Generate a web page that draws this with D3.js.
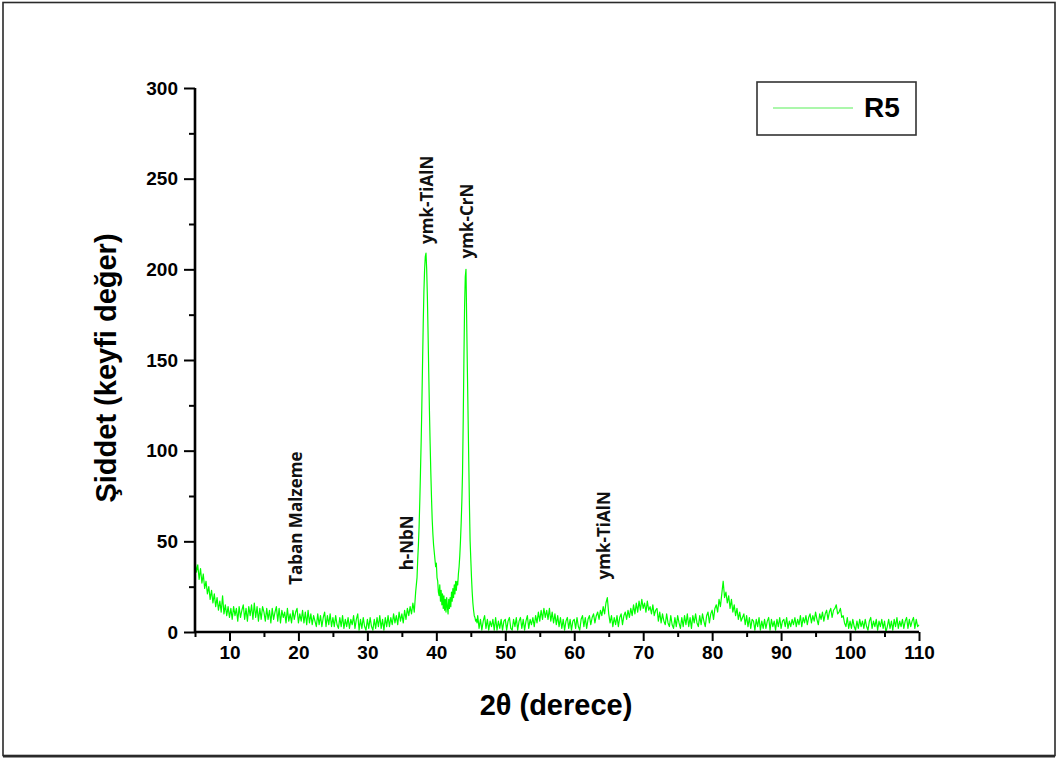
<!DOCTYPE html>
<html>
<head>
<meta charset="utf-8">
<script src="https://cdn.jsdelivr.net/npm/d3@7"></script>
<style>
  html, body { margin: 0; padding: 0; background: #fff; }
  svg { display: block; }
</style>
</head>
<body>
<svg id="chart" width="1060" height="760"></svg>
<script>
// XRD scan of coating R5: intensity (arbitrary units) against 2θ (degrees).
// Low-angle region, 5.0°–36.8° in 0.2° steps
const lowAngleStart = 5.0, lowAngleStep = 0.2;
const lowAngleCounts = [
  40,33,37,29,35,27,32,24,28,21,
  25,18,23,16,21,14,19,12,17,11,
  20,10,15,9,14,8,13,7,14,9,
  13,6,14,8,12,15,7,13,6,14,
  9,15,7,16,8,14,6,13,7,14,
  11,6,13,7,12,5,13,7,11,14,
  6,13,5,12,8,11,5,13,6,10,
  5,12,7,11,13,5,10,6,12,5,
  11,4,12,5,10,4,9,6,3,10,
  4,9,3,8,11,3,9,4,10,3,
  8,3,9,4,2,8,3,9,2,7,
  3,8,2,7,4,9,2,7,10,1,
  7,2,8,3,1,7,2,8,3,1,
  7,2,8,3,9,2,7,1,8,3,
  9,3,8,4,10,5,9,4,11,6,
  10,5,12,7,13,9,14,10,16,11
];
// Main reflections, 37.0°–45.9° in 0.1° steps
const peakStart = 37.0, peakStep = 0.1;
const peakCounts = [
  22,26,30,40,48,58,72,88,105,125,
  148,170,188,200,207,209,200,185,165,143,
  122,104,88,74,62,54,48,44,40,36,
  38,30,28,22,20,26,17,23,15,21,
  13,20,12,18,11,19,14,10,18,13,
  19,14,22,17,24,19,26,21,28,23,
  28,26,32,36,42,50,60,72,88,117,
  150,180,196,200,172,145,120,95,70,50,
  40,30,22,16,12,9,8,6,7,5
];
// High-angle region, 46.0°–110.0° in 0.2° steps
const highAngleStart = 46.0, highAngleStep = 0.2;
const highAngleCounts = [
  9,2,7,1,6,9,2,7,1,6,
  3,7,1,8,1,6,2,7,1,6,
  7,1,6,8,2,1,7,3,8,1,
  6,8,2,7,1,6,9,2,7,4,
  8,3,9,5,11,6,12,7,13,8,
  12,7,13,6,11,5,10,4,9,3,
  8,2,7,1,6,8,2,7,1,6,
  7,2,8,3,1,7,9,3,8,2,
  7,9,4,8,10,5,9,11,7,12,
  9,14,10,16,19,10,5,9,3,8,
  4,9,3,8,10,4,9,11,7,12,
  8,13,9,15,10,16,11,17,12,18,
  13,16,11,17,12,14,10,15,9,12,
  13,6,11,5,10,6,4,10,5,3,
  9,4,2,8,3,9,5,2,8,3,
  9,4,10,3,8,2,9,5,10,5,
  3,9,4,10,6,3,9,11,5,10,
  12,7,13,15,11,18,14,21,28,19,
  22,16,20,13,18,11,15,9,13,7,
  11,6,8,10,4,9,3,8,2,7,
  6,1,7,3,8,1,6,2,7,2,
  6,8,1,7,3,6,1,7,3,8,
  2,6,7,3,8,2,6,3,7,4,
  8,3,7,4,9,3,8,5,9,4,
  8,10,5,9,6,11,7,4,10,7,
  11,6,10,12,7,11,13,8,12,13,
  15,10,11,13,8,9,5,3,8,2,
  6,2,7,3,1,6,2,7,3,6,
  2,7,3,1,6,8,2,6,3,7,
  1,6,3,7,2,6,0,3,7,2,
  6,1,7,3,8,2,6,3,7,2,
  6,8,2,7,3,6,8,2,7,3,
  4
];

const xMajorTicks = [10,20,30,40,50,60,70,80,90,100,110];
const xMinorTicks = [5,15,25,35,45,55,65,75,85,95,105];
const yMajorTicks = [0,50,100,150,200,250,300];
const yMinorTicks = [25,75,125,175,225,275];

// Phase labels: text, 2θ of the label baseline, intensity where the label starts
const phaseNames  = ["Taban Malzeme", "h-NbN", "ymk-TiAlN", "ymk-CrN", "ymk-TiAlN"];
const phaseAngles = [20.5, 36.6, 39.5, 45.3, 65.2];
const phaseLevels = [26, 34, 214, 206, 29];

const seriesName = "R5";

// ---- build the scan ----
function segment(start, step, counts) {
  return counts.map((c, i) => [+(start + i * step).toFixed(2), c]);
}
const scan = [].concat(
  segment(lowAngleStart, lowAngleStep, lowAngleCounts),
  segment(peakStart, peakStep, peakCounts),
  segment(highAngleStart, highAngleStep, highAngleCounts)
);

const svg = d3.select("#chart");
const margin = { left: 195, right: 141, top: 88, bottom: 128 };
const W = 1060, H = 760;

const x = d3.scaleLinear().domain([5, 110]).range([margin.left, W - margin.right]);
const y = d3.scaleLinear().domain([0, 300]).range([H - margin.bottom, margin.top]);

const axisFont = "'Liberation Sans', Arial, Helvetica, sans-serif";

// outer frame
svg.append("rect")
  .attr("x", 3).attr("y", 2.5)
  .attr("width", 1052).attr("height", 753)
  .attr("fill", "none").attr("stroke", "#2a2a2a").attr("stroke-width", 1.6);
svg.append("line")
  .attr("x1", 3).attr("x2", 1055).attr("y1", 756.5).attr("y2", 756.5)
  .attr("stroke", "#2a2a2a").attr("stroke-width", 2.2);

// data line
svg.append("path")
  .datum(scan)
  .attr("fill", "none")
  .attr("stroke", "#00ff00")
  .attr("stroke-width", 1.2)
  .attr("stroke-linejoin", "round")
  .attr("d", d3.line().x(d => x(d[0])).y(d => y(d[1])));

// x axis
const xAxisG = svg.append("g").attr("transform", `translate(0,${y(0)})`);
xAxisG.call(d3.axisBottom(x).tickValues(xMajorTicks).tickSize(9).tickPadding(5).tickFormat(d3.format("d")));
xAxisG.append("g").call(d3.axisBottom(x).tickValues(xMinorTicks).tickSize(5).tickFormat(""))
  .select(".domain").remove();
xAxisG.selectAll(".domain").attr("stroke", "#000").attr("stroke-width", 2.6).attr("d", `M${x(5)},0H${x(110)}`);
xAxisG.selectAll(".tick line").attr("stroke", "#000").attr("stroke-width", 2);
xAxisG.selectAll(".tick text")
  .attr("fill", "#000")
  .style("font-family", axisFont).style("font-weight", "bold").style("font-size", "19px");

// y axis
const yAxisG = svg.append("g").attr("transform", `translate(${x(5)},0)`);
yAxisG.call(d3.axisLeft(y).tickValues(yMajorTicks).tickSize(11).tickPadding(6).tickFormat(d3.format("d")));
yAxisG.append("g").call(d3.axisLeft(y).tickValues(yMinorTicks).tickSize(6).tickFormat(""))
  .select(".domain").remove();
yAxisG.selectAll(".domain").attr("stroke", "#000").attr("stroke-width", 2.6).attr("d", `M0,${y(300)}V${y(0)}`);
yAxisG.selectAll(".tick line").attr("stroke", "#000").attr("stroke-width", 2);
yAxisG.selectAll(".tick text")
  .attr("fill", "#000")
  .style("font-family", axisFont).style("font-weight", "bold").style("font-size", "19px");

// axis titles
svg.append("text")
  .attr("x", 556).attr("y", 715)
  .attr("text-anchor", "middle")
  .style("font-family", axisFont).style("font-weight", "bold").style("font-size", "29px")
  .text("2θ (derece)");
svg.append("text")
  .attr("transform", `translate(116,${(y(0) + y(300)) / 2 + 8}) rotate(-90)`)
  .attr("text-anchor", "middle")
  .style("font-family", axisFont).style("font-weight", "bold").style("font-size", "29px")
  .text("Şiddet (keyfi değer)");

// phase labels
svg.append("g").selectAll("text")
  .data(phaseNames)
  .join("text")
  .attr("transform", (d, i) => `translate(${x(phaseAngles[i])},${y(phaseLevels[i])}) rotate(-90)`)
  .attr("text-anchor", "start")
  .style("font-family", "'Open Sans', 'Noto Sans', sans-serif")
  .style("font-weight", "bold")
  .style("font-size", "17px")
  .attr("fill", "#111")
  .text(d => d);

// legend
const legend = svg.append("g").attr("transform", "translate(757,82)");
legend.append("rect")
  .attr("width", 159).attr("height", 53)
  .attr("fill", "#fff").attr("stroke", "#333").attr("stroke-width", 1.6);
legend.append("line")
  .attr("x1", 16).attr("x2", 96).attr("y1", 26).attr("y2", 26)
  .attr("stroke", "#8ff58f").attr("stroke-width", 1.6);
legend.append("text")
  .attr("x", 107).attr("y", 35)
  .style("font-family", axisFont).style("font-weight", "bold").style("font-size", "28px")
  .text(seriesName);
</script>
</body>
</html>
